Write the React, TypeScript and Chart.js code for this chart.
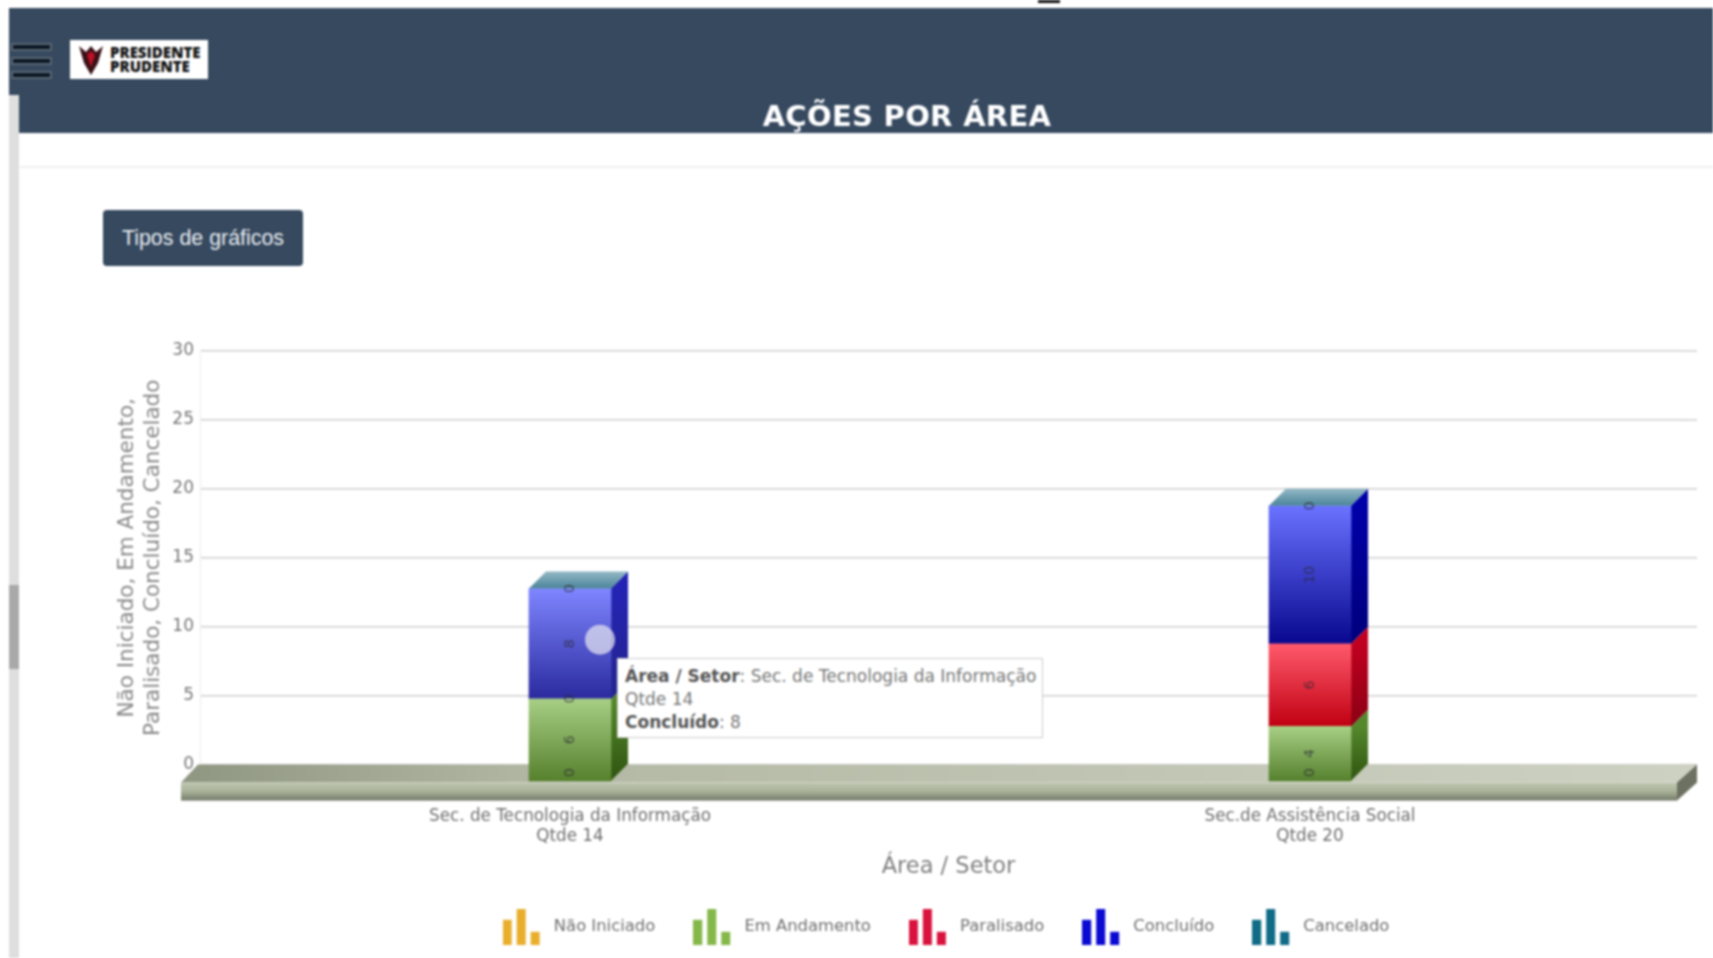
import React, { useEffect, useRef } from "react";
import { Chart, registerables } from "chart.js";

Chart.register(...registerables);

const categories = [
  ["Sec. de Tecnologia da Informação", "Qtde 14"],
  ["Sec.de Assistência Social", "Qtde 20"],
];
const naoIniciado = [0, 0];
const emAndamento = [6, 4];
const paralisado = [0, 6];
const concluido = [8, 10];
const cancelado = [0, 0];
const seriesNames = ["Não Iniciado", "Em Andamento", "Paralisado", "Concluído", "Cancelado"];
const seriesValues = [naoIniciado, emAndamento, paralisado, concluido, cancelado];
const legendColors = ["#e8ae2c", "#84b849", "#d9133d", "#0a0ad2", "#0f6b86"];
const faceTop = ["#f5cf70", "#a8cf85", "#ff5a6c", "#6a72ff", "#4f8ba0"];
const faceBottom = ["#c08a10", "#55802c", "#c00012", "#08088f", "#2c6a80"];
const sideTop = ["#b08010", "#55882c", "#c00020", "#0000a8", "#20607a"];
const sideBottom = ["#806000", "#2f5410", "#8a0014", "#00007c", "#104a60"];

const DEPTH_X = 17;
const DEPTH_Y = 17;
const FONT = "'DejaVu Sans', Verdana, sans-serif";

function makeIcon(color: string) {
  const c = document.createElement("canvas");
  c.width = 43;
  c.height = 36;
  const g = c.getContext("2d")!;
  g.fillStyle = color;
  g.fillRect(0, 11, 9, 25);
  g.fillRect(14, 0, 9, 36);
  g.fillRect(28, 23, 9, 13);
  return c;
}

const threeD = {
  id: "threeD",
  beforeDraw(chart: any) {
    const right = chart.chartArea.right + DEPTH_X;
    chart.scales.x.right = right;
    chart.legend.right = right - 5;
  },
  beforeDatasetsDraw(chart: any) {
    const { ctx, chartArea, scales } = chart;
    const y0 = scales.y.getPixelForValue(0);
    const left = chartArea.left - 19;
    const right = chartArea.right - 3;
    ctx.save();
    ctx.strokeStyle = "#cfcfcf";
    ctx.lineWidth = 1.5;
    scales.y.ticks.forEach((_: any, i: number) => {
      const p = scales.y.getPixelForTick(i);
      ctx.beginPath();
      ctx.moveTo(chartArea.right, p);
      ctx.lineTo(chartArea.right + DEPTH_X, p);
      ctx.stroke();
    });
    // floor
    const top = ctx.createLinearGradient(left, 0, right, 0);
    top.addColorStop(0, "#8f9682");
    top.addColorStop(0.25, "#b4b9a5");
    top.addColorStop(1, "#cdd1c2");
    ctx.fillStyle = top;
    ctx.beginPath();
    ctx.moveTo(left, y0 + DEPTH_Y + 1);
    ctx.lineTo(left + DEPTH_X, y0);
    ctx.lineTo(right + DEPTH_X + 3, y0);
    ctx.lineTo(right, y0 + DEPTH_Y + 1);
    ctx.fill();
    const front = ctx.createLinearGradient(0, y0 + DEPTH_Y, 0, y0 + 2 * DEPTH_Y + 2);
    front.addColorStop(0, "#c0c8b2");
    front.addColorStop(0.5, "#aab39a");
    front.addColorStop(1, "#737b68");
    ctx.fillStyle = front;
    ctx.fillRect(left, y0 + DEPTH_Y + 1, right - left, DEPTH_Y + 1);
    ctx.fillStyle = "#6d7162";
    ctx.beginPath();
    ctx.moveTo(right, y0 + DEPTH_Y + 1);
    ctx.lineTo(right + DEPTH_X + 3, y0);
    ctx.lineTo(right + DEPTH_X + 3, y0 + DEPTH_Y + 1);
    ctx.lineTo(right, y0 + 2 * DEPTH_Y + 2);
    ctx.fill();
    ctx.restore();

    // everything the bars draw sits on the front edge of the floor
    ctx.save();
    ctx.translate(0, DEPTH_Y);
    seriesValues.forEach((_, ds) => {
      chart.getDatasetMeta(ds).data.forEach((el: any) => {
        if (Math.abs(el.base - el.y) < 0.5) return;
        const r = el.x + el.width / 2;
        const g = ctx.createLinearGradient(0, el.y, 0, el.base);
        g.addColorStop(0, sideTop[ds]);
        g.addColorStop(1, sideBottom[ds]);
        ctx.fillStyle = g;
        ctx.beginPath();
        ctx.moveTo(r, el.y);
        ctx.lineTo(r + DEPTH_X, el.y - DEPTH_Y);
        ctx.lineTo(r + DEPTH_X, el.base - DEPTH_Y);
        ctx.lineTo(r, el.base);
        ctx.fill();
      });
    });
  },
  afterDatasetsDraw(chart: any) {
    const { ctx } = chart;
    // hover highlight of the active segment
    const hovered = chart.getDatasetMeta(3).data[0];
    const hl = hovered.x - hovered.width / 2;
    const hr = hovered.x + hovered.width / 2;
    ctx.fillStyle = "rgba(255,255,255,0.14)";
    ctx.beginPath();
    ctx.moveTo(hl, hovered.y);
    ctx.lineTo(hr, hovered.y);
    ctx.lineTo(hr + DEPTH_X, hovered.y - DEPTH_Y);
    ctx.lineTo(hr + DEPTH_X, hovered.base - DEPTH_Y);
    ctx.lineTo(hr, hovered.base);
    ctx.lineTo(hl, hovered.base);
    ctx.fill();
    // top face of each stack
    const last = seriesValues.length - 1;
    chart.getDatasetMeta(last).data.forEach((el: any) => {
      const l = el.x - el.width / 2;
      const r = el.x + el.width / 2;
      const g = ctx.createLinearGradient(0, el.y - DEPTH_Y, 0, el.y);
      g.addColorStop(0, "#93b8c6");
      g.addColorStop(1, "#4a8499");
      ctx.fillStyle = g;
      ctx.beginPath();
      ctx.moveTo(l, el.y);
      ctx.lineTo(l + DEPTH_X, el.y - DEPTH_Y);
      ctx.lineTo(r + DEPTH_X, el.y - DEPTH_Y);
      ctx.lineTo(r, el.y);
      ctx.fill();
    });
    // rotated value labels
    ctx.font = `14px ${FONT}`;
    ctx.fillStyle = "rgba(40,40,50,0.7)";
    ctx.textAlign = "center";
    ctx.textBaseline = "middle";
    const zero = chart.scales.y.getPixelForValue(0);
    seriesValues.forEach((vals, ds) => {
      chart.getDatasetMeta(ds).data.forEach((el: any, i: number) => {
        const mid = Math.min((el.y + el.base) / 2, zero - 9);
        ctx.save();
        ctx.translate(el.x, mid);
        ctx.rotate(-Math.PI / 2);
        ctx.fillText(String(vals[i]), 0, 0);
        ctx.restore();
      });
    });
    // hovered point
    ctx.fillStyle = "rgba(228,228,240,0.72)";
    ctx.beginPath();
    ctx.arc(hovered.x + 30, (hovered.y + hovered.base) / 2 - 4, 15, 0, Math.PI * 2);
    ctx.fill();
    ctx.restore();
  },
};

export default function App() {
  const ref = useRef<HTMLCanvasElement>(null);
  useEffect(() => {
    const cumulative = (ds: number, i: number) =>
      seriesValues.slice(0, ds).reduce((s, v) => s + v[i], 0);
    const chart = new Chart(ref.current!, {
      type: "bar",
      plugins: [threeD],
      data: {
        labels: categories,
        datasets: seriesNames.map((label, ds) => ({
          label,
          data: seriesValues[ds],
          clip: false,
          barThickness: 82,
          borderWidth: 0,
          backgroundColor: (c: any) => {
            const s = c.chart.scales.y;
            if (!s || c.dataIndex === undefined) return legendColors[ds];
            const lo = cumulative(ds, c.dataIndex);
            const g = c.chart.ctx.createLinearGradient(
              0,
              s.getPixelForValue(lo + seriesValues[ds][c.dataIndex]),
              0,
              s.getPixelForValue(lo)
            );
            g.addColorStop(0, faceTop[ds]);
            g.addColorStop(1, faceBottom[ds]);
            return g;
          },
        })),
      } as any,
      options: {
        animation: false,
        responsive: false,
        layout: { padding: { left: 115, right: 33, top: 351, bottom: 13 } },
        scales: {
          x: {
            stacked: true,
            grid: { display: false },
            border: { display: false },
            afterFit: (s: any) => { s.height = 116; },
            ticks: {
              padding: 34,
              color: "#6f6f6f",
              maxRotation: 0,
              autoSkip: false,
              font: { family: FONT, size: 16.8, lineHeight: 1.19 },
            },
            title: {
              display: true,
              text: "Área / Setor",
              color: "#808080",
              padding: 0,
              font: { family: FONT, size: 22.5 },
            },
          },
          y: {
            stacked: true,
            min: 0,
            max: 30,
            afterFit: (s: any) => { s.width = 85; },
            grid: { color: "#cfcfcf", lineWidth: 1.5, drawTicks: false },
            border: { display: true, color: "#ececec" },
            ticks: {
              stepSize: 5,
              padding: 6,
              color: "#777777",
              font: { family: FONT, size: 17 },
            },
            title: {
              display: true,
              text: ["Não Iniciado, Em Andamento,", "Paralisado, Concluído, Cancelado"],
              color: "#8a8a8a",
              padding: 0,
              font: { family: FONT, size: 21.5, lineHeight: 1.18 },
            },
          },
        },
        plugins: {
          tooltip: { enabled: false },
          legend: {
            position: "bottom",
            fullSize: false,
            labels: {
              usePointStyle: true,
              pointStyleWidth: 43,
              padding: 38,
              color: "#6f6f6f",
              font: { family: FONT, size: 16.4 },
              generateLabels: () =>
                seriesNames.map((text, i) => ({
                  text,
                  datasetIndex: i,
                  pointStyle: makeIcon(legendColors[i]),
                  fontColor: "#6f6f6f",
                  lineWidth: 0,
                })),
            },
          },
        },
      } as any,
    });
    return () => chart.destroy();
  }, []);

  const abs = (s: React.CSSProperties): React.CSSProperties => ({ position: "absolute", ...s });
  const navy = "#36495f";
  return (
    <div style={abs({ left: 0, top: 0, width: 1713, height: 958, overflow: "hidden", background: "#fff", filter: "blur(0.8px)" })}>
      <canvas ref={ref} width={1713} height={958} style={abs({ left: 0, top: 0, width: 1713, height: 958 })} />
      <div style={abs({ left: 1038, top: 0, width: 22, height: 3, background: "#111" })} />
      <div style={abs({ left: 9, top: 8, width: 1704, height: 87, background: navy })} />
      <div style={abs({ left: 19, top: 95, width: 1694, height: 38, background: navy })} />
      <div style={abs({ left: 9, top: 95, width: 10, height: 863, background: "#dedede" })} />
      <div style={abs({ left: 9, top: 585, width: 10, height: 84, background: "#a9a9a9" })} />
      <div style={abs({ left: 20, top: 166, width: 1693, height: 2, background: "#efefef" })} />
      {[45, 59, 73].map((t) => (
        <div key={t} style={abs({ left: 13, top: t, width: 37, height: 4, background: "#0c1824", outline: "2px solid #5a6674" })} />
      ))}
      <div style={abs({ left: 70, top: 40, width: 138, height: 39, background: "#fff" })}>
        <svg width="30" height="34" viewBox="0 0 30 34" style={abs({ left: 6, top: 3 })}>
          <path d="M3 3 L10 9 L15 3 L20 9 L27 3 L22 20 L15 32 L8 20 Z" fill="#3a1016" />
          <path d="M11 12 L15 8 L19 12 L15 24 Z" fill="#c01025" />
        </svg>
        <div style={abs({ left: 40, top: 5, font: "800 15px/14px 'Open Sans', sans-serif", color: "#111" })}>
          PRESIDENTE
          <br />
          PRUDENTE
        </div>
      </div>
      <div style={abs({ left: 607, top: 96, width: 600, textAlign: "center", color: "#fff", font: "700 29px/40px 'DejaVu Sans', sans-serif", letterSpacing: 0.3 })}>
        AÇÕES POR ÁREA
      </div>
      <div style={abs({ left: 103, top: 210, width: 200, height: 56, background: navy, borderRadius: 4, color: "#e8ecf0", textAlign: "center", font: "21.4px/56px 'Liberation Sans', Arial, sans-serif" })}>
        Tipos de gráficos
      </div>
      <div style={abs({ left: 617, top: 658, width: 426, height: 80, background: "#fff", border: "1px solid #cccccc", color: "#777", font: `17px/23px ${FONT}`, padding: "6px 0 0 7px", boxSizing: "border-box", whiteSpace: "nowrap" })}>
        <b style={{ color: "#555" }}>Área / Setor</b>: Sec. de Tecnologia da Informação
        <br />
        Qtde 14
        <br />
        <b style={{ color: "#555" }}>Concluído</b>: 8
      </div>
    </div>
  );
}
